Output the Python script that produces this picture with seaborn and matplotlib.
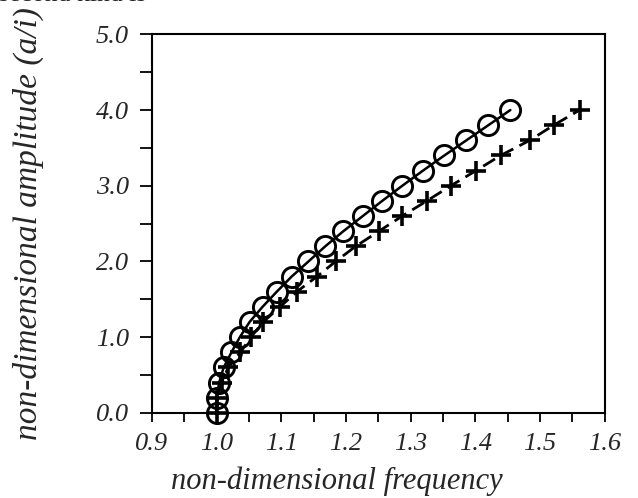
import numpy as np
import pandas as pd
import seaborn as sns
import matplotlib.pyplot as plt
from matplotlib.ticker import MultipleLocator, FormatStrFormatter

# amplitude levels (same for both curves)
amplitude = [0.0, 0.2, 0.4, 0.6, 0.8, 1.0, 1.2, 1.4, 1.6, 1.8, 2.0,
             2.2, 2.4, 2.6, 2.8, 3.0, 3.2, 3.4, 3.6, 3.8, 4.0]
# frequency (solid)
freq_circle = [1.000, 1.000, 1.004, 1.011, 1.023, 1.036, 1.051, 1.071, 1.093, 1.116, 1.142,
               1.168, 1.196, 1.226, 1.256, 1.287, 1.319, 1.352, 1.386, 1.420, 1.454]
# frequency (dashed)
freq_plus = [1.000, 1.001, 1.008, 1.018, 1.037, 1.053, 1.072, 1.098, 1.124, 1.155, 1.184,
             1.215, 1.251, 1.287, 1.325, 1.362, 1.401, 1.439, 1.484, 1.521, 1.561]

xticks = [0.9, 1.0, 1.1, 1.2, 1.3, 1.4, 1.5, 1.6]
yticks = [0.0, 1.0, 2.0, 3.0, 4.0, 5.0]

df_c = pd.DataFrame({'freq': freq_circle, 'amp': amplitude})
df_p = pd.DataFrame({'freq': freq_plus, 'amp': amplitude})

sns.set_style('ticks')
FONT = 'Liberation Serif'
plt.rcParams['font.family'] = FONT

fig = plt.figure(figsize=(6.38, 4.98), dpi=100)
ax = fig.add_axes([0.238, 0.171, 0.710, 0.760])

sns.lineplot(data=df_p, x='freq', y='amp', ax=ax, sort=False, estimator=None,
             color='black', lw=2.0, ls=(0, (5, 2.5)), marker='+', ms=14,
             mew=2.6, mec='black', clip_on=False)
sns.lineplot(data=df_c, x='freq', y='amp', ax=ax, sort=False, estimator=None,
             color='black', lw=1.8, marker='o', ms=14.5, mfc='none',
             mec='black', mew=2.1, clip_on=False)

ax.set_xlim(0.9, 1.6)
ax.set_ylim(0, 5)
ax.set_xticks(xticks)
ax.set_yticks(yticks)
ax.xaxis.set_minor_locator(MultipleLocator(0.05))
ax.yaxis.set_minor_locator(MultipleLocator(0.5))
ax.xaxis.set_major_formatter(FormatStrFormatter('%.1f'))
ax.yaxis.set_major_formatter(FormatStrFormatter('%.1f'))
ax.tick_params(which='both', direction='out', width=1.3, color='black',
               top=False, right=False)
ax.tick_params(axis='y', which='both', length=8.5)
ax.tick_params(axis='x', which='both', length=6.5)
ax.tick_params(which='major', labelsize=19)
ax.tick_params(axis='y', which='major', pad=8)
ax.tick_params(axis='x', which='major', pad=8)
for lab in ax.get_xticklabels() + ax.get_yticklabels():
    lab.set_fontstyle('italic')
    lab.set_fontfamily(FONT)

ax.set_xlabel('')
ax.set_ylabel('')
for s in ax.spines.values():
    s.set_color('black')
    s.set_linewidth(1.5)

fig.text(0.528, 0.034, 'non-dimensional frequency', fontsize=22, style='italic',
         family=FONT, ha='center', va='center')
fig.text(0.044, 0.1165, 'non-dimensional amplitude (a/i)', fontsize=24, style='italic',
         family=FONT, rotation=90, ha='center', va='bottom')
# cut-off text line from the page above the chart
fig.text(-0.002, 1 - 1 / 498, 'second kind is', fontsize=18.5, family=FONT,
         ha='left', va='baseline')

fig.savefig('out.png', dpi=100)
